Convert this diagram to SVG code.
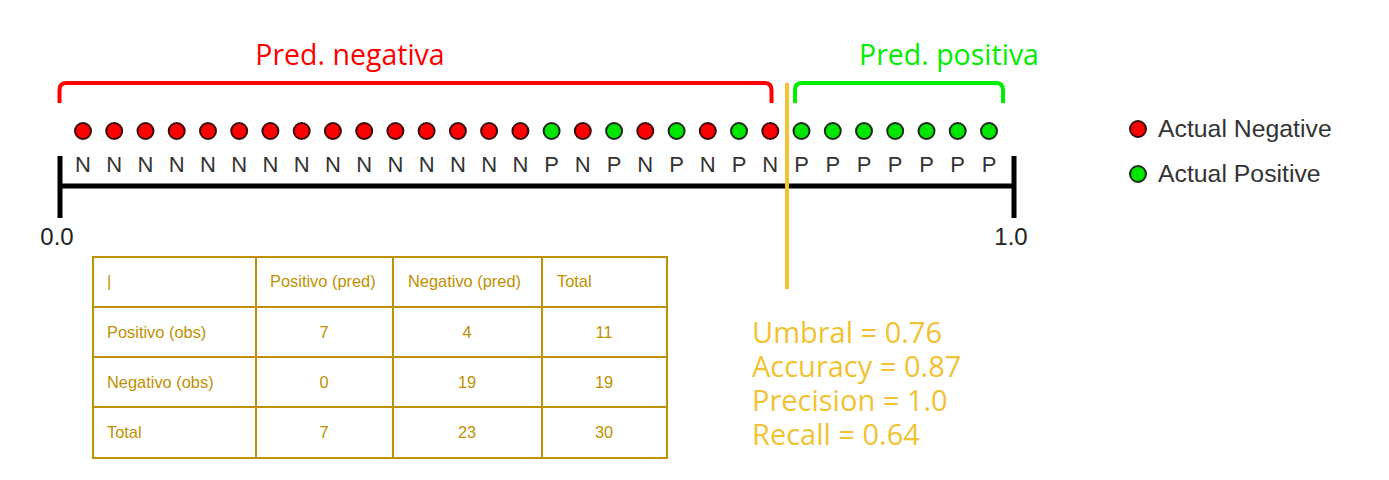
<svg xmlns="http://www.w3.org/2000/svg" width="1389" height="480" viewBox="0 0 1389 480">
<style>
.title{font-family:"Open Sans",sans-serif;font-size:28.5px;text-anchor:middle}
.lbl{font-family:"Liberation Sans",Arial,sans-serif;font-size:22px;fill:#333;text-anchor:middle}
.ax{font-family:"Liberation Sans",Arial,sans-serif;font-size:24px;fill:#222;text-anchor:middle}
.leg{font-family:"Liberation Sans",Arial,sans-serif;font-size:24.8px;fill:#333}
.neg{fill:#ff0000;stroke:#3a0a0a;stroke-width:2}
.pos{fill:#00e600;stroke:#1a2a1a;stroke-width:2}
.stat{font-family:"Open Sans",sans-serif;font-size:29px;fill:#f1c232}
.tb{fill:none;stroke:#bf9000;stroke-width:2}
.tt{font-family:"Liberation Sans",Arial,sans-serif;font-size:16.4px;fill:#bf9000}
.c{text-anchor:middle}
</style>
<rect width="1389" height="480" fill="#fff"/>
<g id="titles">
<text class="title" x="350" y="65" fill="#ff0000">Pred. negativa</text>
<text class="title" x="949" y="65" fill="#00ee00">Pred. positiva</text>
</g>
<g id="brackets" fill="none" stroke-width="4">
<path d="M59.5,103 V90 Q59.5,83 66.5,83 H764.5 Q771.5,83 771.5,90 V103" stroke="#ff0000"/>
<path d="M795,103 V90 Q795,83 802,83 H996 Q1003,83 1003,90 V103" stroke="#00ee00"/>
</g>
<g id="axis" stroke="#000">
<line x1="60" y1="186" x2="1014" y2="186" stroke-width="5"/>
<line x1="60" y1="156" x2="60" y2="218" stroke-width="5"/>
<line x1="1014" y1="156" x2="1014" y2="218" stroke-width="5"/>
</g>
<text class="ax" x="57" y="245">0.0</text>
<text class="ax" x="1011" y="245">1.0</text>
<g id="dots">
<circle class="neg" cx="83" cy="131" r="8"/>
<circle class="neg" cx="114.2" cy="131" r="8"/>
<circle class="neg" cx="145.5" cy="131" r="8"/>
<circle class="neg" cx="176.7" cy="131" r="8"/>
<circle class="neg" cx="208" cy="131" r="8"/>
<circle class="neg" cx="239.2" cy="131" r="8"/>
<circle class="neg" cx="270.4" cy="131" r="8"/>
<circle class="neg" cx="301.7" cy="131" r="8"/>
<circle class="neg" cx="332.9" cy="131" r="8"/>
<circle class="neg" cx="364.2" cy="131" r="8"/>
<circle class="neg" cx="395.4" cy="131" r="8"/>
<circle class="neg" cx="426.6" cy="131" r="8"/>
<circle class="neg" cx="457.9" cy="131" r="8"/>
<circle class="neg" cx="489.1" cy="131" r="8"/>
<circle class="neg" cx="520.4" cy="131" r="8"/>
<circle class="pos" cx="551.6" cy="131" r="8"/>
<circle class="neg" cx="582.8" cy="131" r="8"/>
<circle class="pos" cx="614.1" cy="131" r="8"/>
<circle class="neg" cx="645.3" cy="131" r="8"/>
<circle class="pos" cx="676.6" cy="131" r="8"/>
<circle class="neg" cx="707.8" cy="131" r="8"/>
<circle class="pos" cx="739" cy="131" r="8"/>
<circle class="neg" cx="770.3" cy="131" r="8"/>
<circle class="pos" cx="801.5" cy="131" r="8"/>
<circle class="pos" cx="832.8" cy="131" r="8"/>
<circle class="pos" cx="864" cy="131" r="8"/>
<circle class="pos" cx="895.2" cy="131" r="8"/>
<circle class="pos" cx="926.5" cy="131" r="8"/>
<circle class="pos" cx="957.7" cy="131" r="8"/>
<circle class="pos" cx="989" cy="131" r="8"/>
</g>
<g id="letters">
<text class="lbl" x="83" y="172">N</text>
<text class="lbl" x="114.2" y="172">N</text>
<text class="lbl" x="145.5" y="172">N</text>
<text class="lbl" x="176.7" y="172">N</text>
<text class="lbl" x="208" y="172">N</text>
<text class="lbl" x="239.2" y="172">N</text>
<text class="lbl" x="270.4" y="172">N</text>
<text class="lbl" x="301.7" y="172">N</text>
<text class="lbl" x="332.9" y="172">N</text>
<text class="lbl" x="364.2" y="172">N</text>
<text class="lbl" x="395.4" y="172">N</text>
<text class="lbl" x="426.6" y="172">N</text>
<text class="lbl" x="457.9" y="172">N</text>
<text class="lbl" x="489.1" y="172">N</text>
<text class="lbl" x="520.4" y="172">N</text>
<text class="lbl" x="551.6" y="172">P</text>
<text class="lbl" x="582.8" y="172">N</text>
<text class="lbl" x="614.1" y="172">P</text>
<text class="lbl" x="645.3" y="172">N</text>
<text class="lbl" x="676.6" y="172">P</text>
<text class="lbl" x="707.8" y="172">N</text>
<text class="lbl" x="739" y="172">P</text>
<text class="lbl" x="770.3" y="172">N</text>
<text class="lbl" x="801.5" y="172">P</text>
<text class="lbl" x="832.8" y="172">P</text>
<text class="lbl" x="864" y="172">P</text>
<text class="lbl" x="895.2" y="172">P</text>
<text class="lbl" x="926.5" y="172">P</text>
<text class="lbl" x="957.7" y="172">P</text>
<text class="lbl" x="989" y="172">P</text>
</g>
<g id="threshold">
<line x1="787" y1="83" x2="787" y2="289" stroke="#f1c232" stroke-width="4"/>
</g>
<g id="legend">
<circle class="neg" cx="1138" cy="129" r="8"/>
<text class="leg" x="1158" y="137">Actual Negative</text>
<circle class="pos" cx="1138" cy="174" r="8"/>
<text class="leg" x="1158" y="182">Actual Positive</text>
</g>
<g id="stats">
<text class="stat" x="752" y="343">Umbral = 0.76</text>
<text class="stat" x="752" y="377">Accuracy = 0.87</text>
<text class="stat" x="752" y="411">Precision = 1.0</text>
<text class="stat" x="752" y="445">Recall = 0.64</text>
</g>
<g id="table">
<rect class="tb" x="93" y="257" width="574" height="201"/>
<path class="tb" d="M93,307H667M93,357H667M93,407H667M256,257V458M393,257V458M542,257V458"/>
<text class="tt" x="107" y="287">|</text>
<text class="tt" x="270" y="287">Positivo (pred)</text>
<text class="tt" x="408" y="287">Negativo (pred)</text>
<text class="tt" x="557" y="287">Total</text>
<text class="tt" x="107" y="338">Positivo (obs)</text>
<text class="tt c" x="324" y="338">7</text>
<text class="tt c" x="467" y="338">4</text>
<text class="tt c" x="604" y="338">11</text>
<text class="tt" x="107" y="388">Negativo (obs)</text>
<text class="tt c" x="324" y="388">0</text>
<text class="tt c" x="467" y="388">19</text>
<text class="tt c" x="604" y="388">19</text>
<text class="tt" x="107" y="438">Total</text>
<text class="tt c" x="324" y="438">7</text>
<text class="tt c" x="467" y="438">23</text>
<text class="tt c" x="604" y="438">30</text>
</g>
</svg>
